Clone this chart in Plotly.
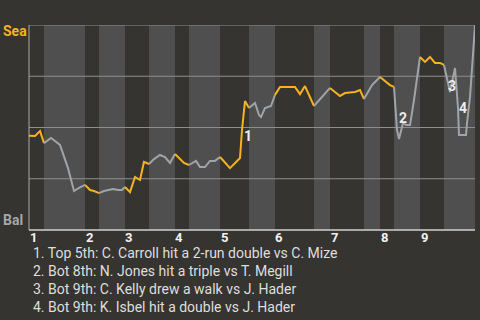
import plotly.graph_objects as go

# ---- data ----
# game progress (% of game) and Seattle win probability (%)
progress = [0, 1.35, 2.47, 3.36,
            4.93, 5.83, 6.95, 8.74, 10.09, 11.21, 12.56,
            13.68, 14.57, 15.70,
            16.82, 18.83, 19.96, 20.85, 21.52,
            22.65, 23.77, 24.89, 25.78, 26.91,
            28.03, 29.37, 30.49, 31.61, 32.74,
            33.86, 34.75, 35.87,
            37.44, 38.34, 39.46, 40.58, 41.70, 42.83,
            45.07, 47.31, 47.76, 48.43, 49.33,
            50.67, 51.57, 52.02, 52.91, 54.26, 55.16,
            56.28, 59.64, 60.76, 61.88, 63.90,
            65.25, 67.49,
            69.73, 70.85, 73.09, 74.22, 75.11,
            76.91, 78.70,
            80.94, 81.84,
            82.51, 82.96, 83.86, 84.53, 85.43, 86.32, 87.67,
            88.79, 89.91, 91.03, 92.15, 93.05,
            93.95, 94.39, 95.52, 96.19, 96.41, 97.98, 98.21, 98.88, 99.78, 100]
sea_wp = [46.0, 45.9, 48.3, 42.4,
          44.9, 43.4, 41.5, 30.2, 19.0, 20.5, 22.0,
          19.5, 19.0, 18.0,
          19.0, 20.0, 19.5, 19.5, 21.0,
          18.5, 25.9, 24.4, 33.2, 32.2,
          34.6, 36.6, 35.6, 32.7, 37.1,
          34.6, 32.7, 31.7,
          33.7, 30.7, 30.7, 33.7, 33.7, 35.6,
          30.2, 35.1, 48.8, 62.9, 59.5,
          62.0, 56.1, 55.1, 59.5, 60.5, 65.9,
          69.8, 69.8, 66.3, 70.2, 60.5,
          63.9, 69.3,
          65.4, 66.8, 67.3, 68.3, 63.9,
          70.7, 74.6,
          70.7, 69.8,
          48.8, 44.4, 52.2, 51.2, 51.2, 63.4, 84.4,
          82.0, 84.4, 81.5, 81.5, 80.5,
          70.7, 67.3, 79.0, 59.5, 46.3, 46.3, 52.2, 64.9, 92.7, 100]

# half-inning boundaries (top 1st starts at 0)
half_bounds = [0, 3.36, 12.56, 15.70, 21.52, 26.91, 32.74, 35.87, 42.83, 49.33,
               55.16, 63.90, 67.49, 75.11, 78.70, 81.84, 87.67, 93.05, 100]
inning_labels = ["1", "2", "3", "4", "5", "6", "7", "8", "9"]

event_labels = ["1", "2", "3", "4"]
event_x = [49.1, 83.86, 94.8, 97.3]
event_y = [45.9, 54.6, 70.2, 59.5]
event_text = [
    "1. Top 5th: C. Carroll hit a 2-run double vs C. Mize",
    "2. Bot 8th: N. Jones hit a triple vs T. Megill",
    "3. Bot 9th: C. Kelly drew a walk vs J. Hader",
    "4. Bot 9th: K. Isbel hit a double vs J. Hader",
]
team_top = "Sea"
team_bottom = "Bal"
grid_values = [25, 50, 75, 100]

# ---- styles ----
BG = "#363430"
BAND = "#4f4f4f"
ORANGE = "#f7b21e"
GREY = "#9fa4a9"
FONT = "Roboto"

fig = go.Figure()
shapes = []
# bands for bottom halves
for i in range(len(half_bounds) - 1):
    if i % 2 == 1:
        shapes.append(dict(type="rect", xref="x", yref="paper",
                           x0=half_bounds[i], x1=half_bounds[i + 1], y0=0, y1=1,
                           fillcolor=BAND, line_width=0, layer="below"))
# gridlines
for g in grid_values:
    shapes.append(dict(type="line", xref="paper", yref="y", x0=0, x1=1, y0=g, y1=g,
                       line=dict(color="#8e8e8e", width=1), layer="below"))
# axis lines
shapes.append(dict(type="line", xref="paper", yref="paper", x0=0, x1=0, y0=0, y1=1,
                   line=dict(color="#a8a8a8", width=1), layer="below"))
shapes.append(dict(type="line", xref="paper", yref="paper", x0=0, x1=1, y0=0, y1=0,
                   line=dict(color="#d0d0d0", width=1.5), layer="below"))

# line segments per half inning
eps = 1e-6
for i in range(len(half_bounds) - 1):
    lo, hi = half_bounds[i], half_bounds[i + 1]
    xs = [x for x in progress if lo - eps <= x <= hi + eps]
    ys = [y for x, y in zip(progress, sea_wp) if lo - eps <= x <= hi + eps]
    fig.add_trace(go.Scatter(x=xs, y=ys, mode="lines",
                             line=dict(color=ORANGE if i % 2 == 0 else GREY, width=2),
                             hoverinfo="skip", showlegend=False))

annotations = []
for lab, x, y in zip(event_labels, event_x, event_y):
    annotations.append(dict(x=x, y=y, xref="x", yref="y", text="<b>%s</b>" % lab,
                            showarrow=False, font=dict(family=FONT, size=14, color="#ececec"),
                            xanchor="center", yanchor="middle"))
for k, lab in enumerate(inning_labels):
    annotations.append(dict(x=half_bounds[2 * k], y=0, xref="x", yref="paper",
                            text="<b>%s</b>" % lab, showarrow=False, xshift=4, yshift=-7,
                            font=dict(family=FONT, size=13, color="#f2f2f2"),
                            xanchor="center", yanchor="middle"))
annotations.append(dict(x=0, y=1, xref="paper", yref="paper", text="<b>%s</b>" % team_top,
                        showarrow=False, xshift=-14.5, yshift=-5.5,
                        font=dict(family=FONT, size=14, color=ORANGE),
                        xanchor="center", yanchor="middle"))
annotations.append(dict(x=0, y=0, xref="paper", yref="paper", text="<b>%s</b>" % team_bottom,
                        showarrow=False, xshift=-16, yshift=10.5,
                        font=dict(family=FONT, size=14, color="#a3a7ab"),
                        xanchor="center", yanchor="middle"))
for k, t in enumerate(event_text):
    annotations.append(dict(x=0, y=0, xref="paper", yref="paper", text=t,
                            showarrow=False, xshift=1.5, yshift=-22.7 - 18 * k,
                            font=dict(family=FONT, size=14, color="#dedede"),
                            xanchor="left", yanchor="middle"))

fig.update_layout(
    width=480, height=320,
    margin=dict(l=29, r=5, t=25, b=90),
    paper_bgcolor=BG, plot_bgcolor=BG,
    xaxis=dict(range=[0, 100], visible=False, fixedrange=True),
    yaxis=dict(range=[0, 100], visible=False, fixedrange=True),
    shapes=shapes, annotations=annotations,
    showlegend=False,
)
fig.write_html("out.html", config={"displayModeBar": False})
